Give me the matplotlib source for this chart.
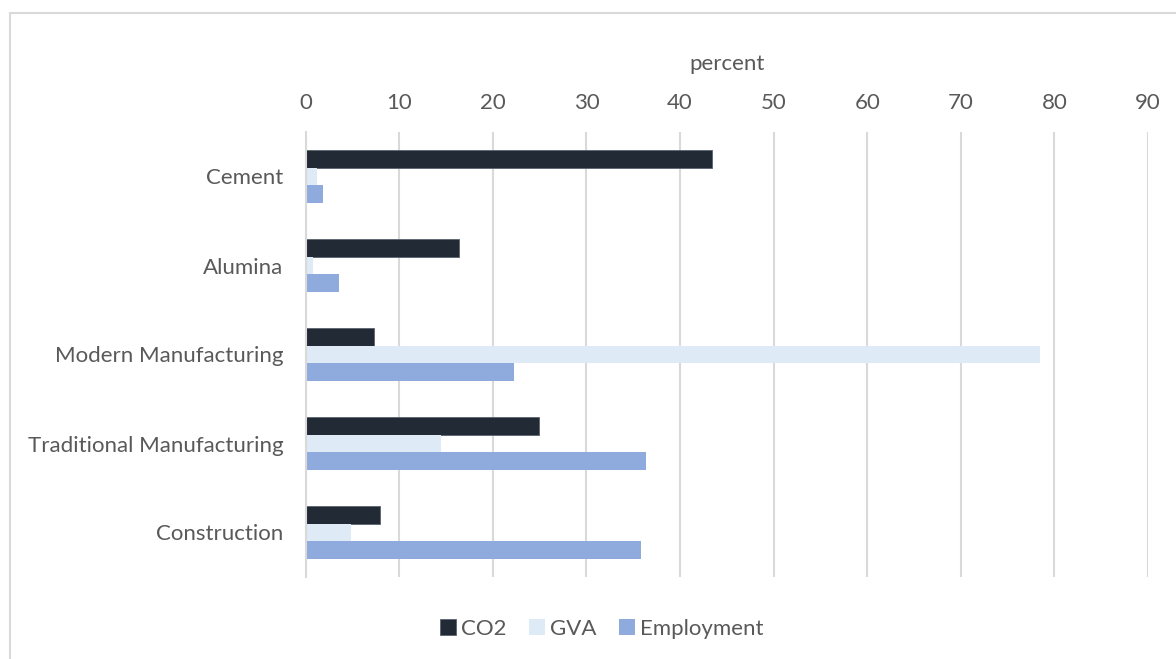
import matplotlib.pyplot as plt
import numpy as np
from matplotlib.patches import Rectangle

categories = ["Cement", "Alumina", "Modern Manufacturing",
              "Traditional Manufacturing", "Construction"]
co2 = [43.4, 16.4, 7.3, 24.9, 7.9]
gva = [1.2, 0.8, 78.5, 14.5, 4.8]
employment = [1.8, 3.6, 22.3, 36.4, 35.8]

series = [("CO2", co2, "#222A35"),
          ("GVA", gva, "#DEEBF7"),
          ("Employment", employment, "#8FAADC")]

plt.rcParams["font.family"] = ["Lato", "DejaVu Sans"]
text_color = "#595959"
grid_color = "#D9D9D9"
fs = 16

fig = plt.figure(figsize=(11.76, 6.59), dpi=100)
fig.patches.append(Rectangle((10 / 1176, -0.1), 1.2, 1 - 13 / 659 + 0.1,
                             transform=fig.transFigure, fill=False,
                             edgecolor=grid_color, linewidth=1.5))
ax = fig.add_axes([305.7 / 1176, 1 - 577 / 659, (1148 - 305.7) / 1176, 445 / 659])

y = np.arange(len(categories))
h = 0.2
for i, (name, vals, color) in enumerate(series):
    ax.barh(y + (i - 1) * h, vals, height=h, color=color, label=name,
            edgecolor="#5a626e" if name == "CO2" else "none", linewidth=0.6)

ax.set_xlim(0, 90)
ax.set_ylim(len(categories) - 0.5, -0.5)
ax.set_xticks(np.arange(0, 91, 10))
ax.xaxis.tick_top()
ax.xaxis.set_label_position("top")
ax.set_xlabel("percent", fontsize=fs, color=text_color, labelpad=16)
ax.set_yticks(y)
ax.set_yticklabels(categories)
ax.tick_params(axis="x", length=0, labelsize=fs, labelcolor=text_color, pad=14)
ax.tick_params(axis="y", length=0, labelsize=fs, labelcolor=text_color, pad=16)
ax.grid(axis="x", color=grid_color, linewidth=1.5)
ax.set_axisbelow(True)
for s in ["top", "right", "bottom"]:
    ax.spines[s].set_visible(False)
ax.spines["left"].set_color(grid_color)
ax.spines["left"].set_linewidth(1.5)

fig.legend(loc="center", bbox_to_anchor=(602 / 1176, 1 - 629 / 659), ncol=3,
           frameon=False, fontsize=fs, labelcolor=text_color,
           handlelength=0.7, handleheight=0.7, handletextpad=0.25,
           columnspacing=1.0)

fig.savefig("out.png", dpi=100)
